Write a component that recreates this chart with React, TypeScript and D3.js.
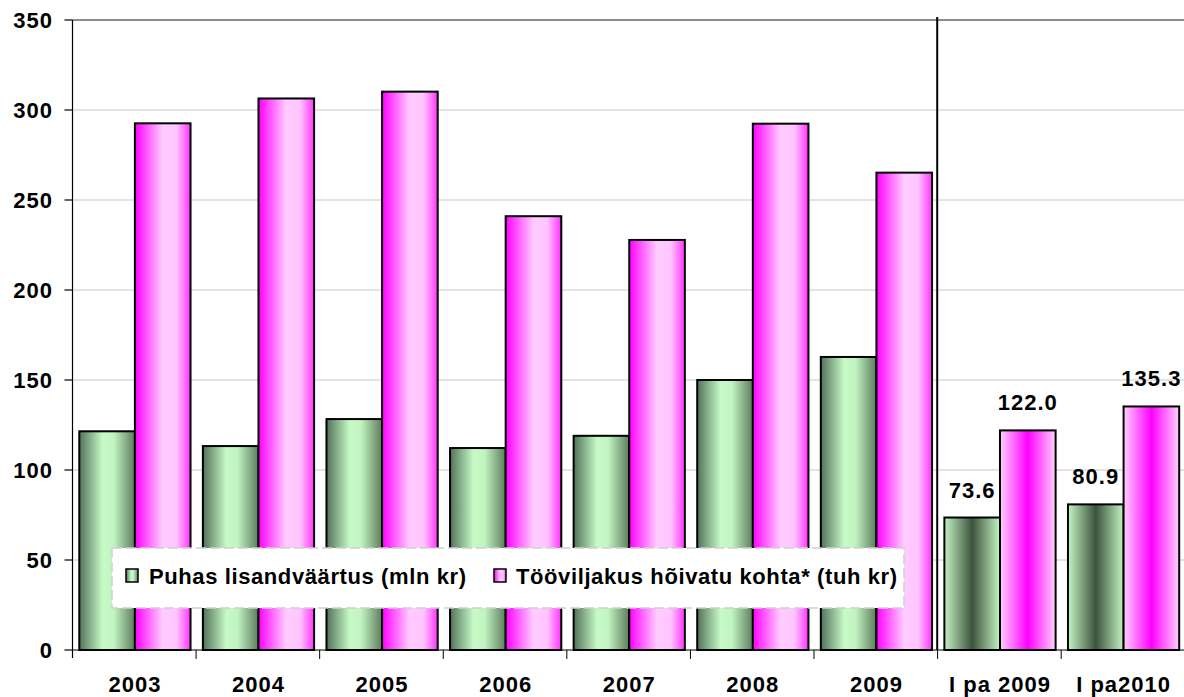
import React from "react";
import * as d3 from "d3";

const categories = ["2003", "2004", "2005", "2006", "2007", "2008", "2009", "I pa 2009", "I pa2010"];
const valueAdded = [121.5, 113.3, 128.3, 112.2, 119.0, 150.0, 162.8, 73.6, 80.9];
const productivity = [292.6, 306.4, 310.2, 241.0, 227.8, 292.4, 265.2, 122.0, 135.3];
const seriesNames = ["Puhas lisandväärtus (mln kr)", "Tööviljakus hõivatu kohta* (tuh kr)"];
const yTicks = [0, 50, 100, 150, 200, 250, 300, 350];
const labelledCategories = ["I pa 2009", "I pa2010"];

const W = 1184;
const H = 697;
const FONT = "Arial, 'Liberation Sans', sans-serif";

export default function App() {
  const x0 = d3.scaleBand<string>().domain(categories).range([72.5, 1186]).paddingInner(0.1).paddingOuter(0.055);
  const x1 = d3.scaleBand<string>().domain(["a", "b"]).range([0, x0.bandwidth()]).padding(0);
  const y = d3.scaleLinear().domain([0, 350]).range([650, 20]);
  const step = x0.step();
  const axisLeft = 72.5;

  const gradFor = (cat: string, s: number) => {
    const special = labelledCategories.includes(cat);
    return `url(#g${s}${special ? "r" : "n"})`;
  };

  return (
    <svg width={W} height={H} style={{ position: "absolute", left: 0, top: 0, background: "#fff" }} fontFamily={FONT}>
      <defs>
        <linearGradient id="g0n" x1="0" x2="1" y1="0" y2="0">
          <stop offset="0" stopColor="#52725a" />
          <stop offset="0.42" stopColor="#c6fac6" />
          <stop offset="0.62" stopColor="#c2f4c2" />
          <stop offset="1" stopColor="#5c7c5c" />
        </linearGradient>
        <linearGradient id="g1n" x1="0" x2="1" y1="0" y2="0">
          <stop offset="0" stopColor="#ff00ff" />
          <stop offset="0.5" stopColor="#ffccff" />
          <stop offset="0.75" stopColor="#ffc4ff" />
          <stop offset="1" stopColor="#ff33ff" />
        </linearGradient>
        <linearGradient id="g0r" x1="0" x2="1" y1="0" y2="0">
          <stop offset="0" stopColor="#c4f4c4" />
          <stop offset="0.5" stopColor="#3c523c" />
          <stop offset="1" stopColor="#c4f4c4" />
        </linearGradient>
        <linearGradient id="g1r" x1="0" x2="1" y1="0" y2="0">
          <stop offset="0" stopColor="#ffd0ff" />
          <stop offset="0.5" stopColor="#ff00ff" />
          <stop offset="1" stopColor="#ffd0ff" />
        </linearGradient>
      </defs>

      {/* gridlines */}
      {yTicks.filter((t) => t > 0).map((t) => (
        <line key={t} x1={axisLeft} x2={W} y1={y(t)} y2={y(t)} stroke={t === 350 ? "#8c8c8c" : "#c8c8c8"} strokeWidth={t === 350 ? 2 : 1} />
      ))}

      {/* bars */}
      {categories.map((c, i) => {
        const bx = x0(c)!;
        const vals = [valueAdded[i], productivity[i]];
        return (
          <g key={c}>
            {vals.map((v, s) => (
              <rect
                key={s}
                x={bx + x1(s === 0 ? "a" : "b")!}
                y={y(v)}
                width={x1.bandwidth()}
                height={y(0) - y(v)}
                fill={gradFor(c, s)}
                stroke="#000"
                strokeWidth={2}
              />
            ))}
            {labelledCategories.includes(c) &&
              vals.map((v, s) => (
                <text
                  key={"l" + s}
                  x={bx + x1(s === 0 ? "a" : "b")! + x1.bandwidth() / 2}
                  y={y(v) - 20}
                  textAnchor="middle"
                  fontSize={22}
                  fontWeight="bold"
                  letterSpacing={1}
                >
                  {v.toFixed(1)}
                </text>
              ))}
          </g>
        );
      })}

      {/* separator line */}
      <line x1={x0("I pa 2009")! - x0.step() * x0.paddingInner() / 2 - 1} x2={x0("I pa 2009")! - x0.step() * x0.paddingInner() / 2 - 1} y1={17} y2={650} stroke="#000" strokeWidth={2} />

      {/* y axis */}
      <line x1={axisLeft} x2={axisLeft} y1={20} y2={658} stroke="#000" strokeWidth={1.2} />
      {yTicks.map((t) => (
        <g key={t}>
          <line x1={axisLeft - 8} x2={axisLeft} y1={y(t)} y2={y(t)} stroke="#000" strokeWidth={1.2} />
          <text x={53} y={y(t)} dy="0.36em" textAnchor="end" fontSize={22} fontWeight="bold" letterSpacing={1}>
            {t}
          </text>
        </g>
      ))}

      {/* x axis */}
      <line x1={axisLeft} x2={W} y1={650} y2={650} stroke="#000" strokeWidth={1.2} />
      {categories.map((c, i) => (
        <line key={"t" + c} x1={axisLeft + step * (i + 1)} x2={axisLeft + step * (i + 1)} y1={650} y2={659} stroke="#000" strokeWidth={1} />
      ))}
      {categories.map((c) => (
        <text key={"x" + c} x={x0(c)! + x0.bandwidth() / 2} y={692} textAnchor="middle" fontSize={22} fontWeight="bold" letterSpacing={1}>
          {c}
        </text>
      ))}

      {/* legend */}
      <rect x={112} y={548} width={792} height={60} fill="#fff" stroke="#d0d0d0" strokeDasharray="10 4" strokeWidth={1.5} />
      <rect x={126} y={569} width={12} height={13} fill="url(#g0n)" stroke="#000" strokeWidth={1.5} />
      <text x={149} y={584} fontSize={22} fontWeight="bold" letterSpacing={0.6}>{seriesNames[0]}</text>
      <rect x={494} y={569} width={12} height={13} fill="url(#g1n)" stroke="#000" strokeWidth={1.5} />
      <text x={516} y={584} fontSize={22} fontWeight="bold" letterSpacing={0.6}>{seriesNames[1]}</text>
    </svg>
  );
}
